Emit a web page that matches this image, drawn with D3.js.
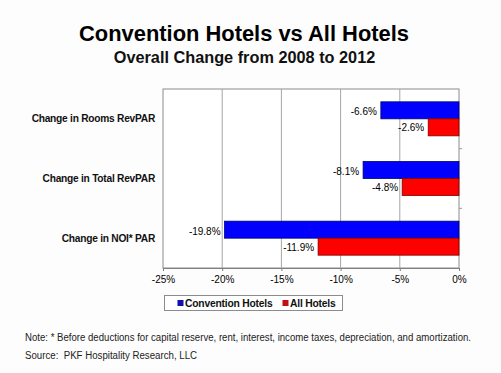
<!DOCTYPE html>
<html>
<head>
<meta charset="utf-8">
<script src="https://cdn.jsdelivr.net/npm/d3@7"></script>
<style>
  body { margin: 0; background: #fdfdfd; }
  svg { font-family: "Liberation Sans", Arial, sans-serif; }
</style>
</head>
<body>
<div id="chart"></div>
<script>
// data
const categories = ['Change in Rooms RevPAR', 'Change in Total RevPAR', 'Change in NOI* PAR']
const seriesNames = ['Convention Hotels', 'All Hotels']
const conventionValues = [-6.6, -8.1, -19.8]
const allHotelValues = [-2.6, -4.8, -11.9]
const xTicks = [-25, -20, -15, -10, -5, 0]

const colors = { 'Convention Hotels': '#0000ff', 'All Hotels': '#ff0000' }
const strokes = { 'Convention Hotels': '#00006e', 'All Hotels': '#7a0000' }

const data = categories.map((c, i) => ({
    category: c,
    values: [
        { series: seriesNames[0], value: conventionValues[i] },
        { series: seriesNames[1], value: allHotelValues[i] }
    ]
}))

const width = 501, height = 373
const plot = { left: 163, right: 459, top: 89, bottom: 268 }

const svg = d3.select('#chart').append('svg')
    .attr('width', width)
    .attr('height', height)

//titles
svg.append('text')
    .attr('x', 244).attr('y', 41)
    .attr('text-anchor', 'middle')
    .style('font-size', '21.9px').style('font-weight', 'bold')
    .text('Convention Hotels vs All Hotels')
svg.append('text')
    .attr('x', 244.5).attr('y', 63)
    .attr('text-anchor', 'middle')
    .style('font-size', '16.3px').style('font-weight', 'bold')
    .style('fill', '#111')
    .text('Overall Change from 2008 to 2012')

//scales
const xScale = d3.scaleLinear()
    .domain([-25, 0])
    .range([plot.left, plot.right])

const yScale = d3.scaleBand()
    .domain(categories)
    .range([plot.top, plot.bottom])
    .paddingInner(0.43)
    .paddingOuter(0.215)

const ySub = d3.scaleBand()
    .domain(seriesNames)
    .range([0, yScale.bandwidth()])

//plot area border + gridlines
svg.append('rect')
    .attr('x', plot.left).attr('y', plot.top)
    .attr('width', plot.right - plot.left)
    .attr('height', plot.bottom - plot.top)
    .attr('fill', '#fff')
    .attr('stroke', '#8c8c8c')

svg.append('g')
    .selectAll('line')
    .data(xTicks.slice(1, -1))
    .join('line')
    .attr('x1', d => xScale(d)).attr('x2', d => xScale(d))
    .attr('y1', plot.top).attr('y2', plot.bottom)
    .attr('stroke', '#a6a6a6')

//x axis
const xAxis = svg.append('g')
    .attr('transform', `translate(0, ${plot.bottom})`)
    .call(d3.axisBottom(xScale).tickValues(xTicks).tickSize(3).tickFormat(d => d + '%'))
xAxis.select('.domain').attr('stroke', '#808080')
xAxis.selectAll('.tick line').attr('stroke', '#808080')
xAxis.selectAll('text')
    .style('font-size', '10px').style('font-family', '"Liberation Sans", Arial, sans-serif')
    .attr('fill', '#000').attr('dy', '0.9em')

//small category ticks on the zero line
svg.append('g')
    .selectAll('line')
    .data(categories.slice(1))
    .join('line')
    .attr('x1', xScale(0)).attr('x2', xScale(0) + 3)
    .attr('y1', d => yScale(d) - yScale.step() * yScale.paddingInner() / 2)
    .attr('y2', d => yScale(d) - yScale.step() * yScale.paddingInner() / 2)
    .attr('stroke', '#999')

//category labels
svg.append('g')
    .selectAll('text')
    .data(categories)
    .join('text')
    .attr('x', 155)
    .attr('y', d => yScale(d) + yScale.bandwidth() / 2)
    .attr('dy', '0.35em')
    .attr('text-anchor', 'end')
    .style('font-size', '10.2px').style('font-weight', 'bold')
    .style('letter-spacing', '-0.25px')
    .style('fill', '#111')
    .text(d => d)

//bars
const groups = svg.append('g')
    .selectAll('g')
    .data(data)
    .join('g')
    .attr('transform', d => `translate(0, ${yScale(d.category)})`)

groups.selectAll('rect')
    .data(d => d.values)
    .join('rect')
    .attr('x', d => xScale(d.value))
    .attr('y', d => ySub(d.series))
    .attr('width', d => xScale(0) - xScale(d.value))
    .attr('height', ySub.bandwidth())
    .attr('fill', d => colors[d.series])
    .attr('stroke', d => strokes[d.series])
    .attr('stroke-width', 0.8)

groups.selectAll('text')
    .data(d => d.values)
    .join('text')
    .attr('x', d => xScale(d.value) - 4)
    .attr('y', d => ySub(d.series) + ySub.bandwidth() / 2 + (d.series === seriesNames[0] ? 1.5 : 0.5))
    .attr('dy', '0.35em')
    .attr('text-anchor', 'end')
    .style('font-size', '10px')
    .text(d => d.value.toFixed(1) + '%')

//legend
svg.append('rect')
    .attr('x', 164.5).attr('y', 295.5)
    .attr('width', 178).attr('height', 15)
    .attr('fill', '#fff')
    .attr('stroke', '#8c8c8c')

const legendX = [177.5, 282.5]
const legendSwatch = { 'Convention Hotels': '#1010b0', 'All Hotels': '#c01010' }
seriesNames.forEach((s, i) => {
    svg.append('rect')
        .attr('x', legendX[i]).attr('y', 300)
        .attr('width', 6).attr('height', 6)
        .attr('fill', legendSwatch[s])
    svg.append('text')
        .attr('x', legendX[i] + 7.5).attr('y', 303)
        .attr('dy', '0.35em')
        .style('font-size', '10.3px').style('font-weight', 'bold')
        .style('letter-spacing', '-0.2px')
        .style('fill', '#111')
        .text(s)
})

//notes
svg.append('text')
    .attr('x', 25).attr('y', 337.5)
    .attr('dy', '0.35em')
    .style('font-size', '10px').style('fill', '#222')
    .attr('textLength', 446).attr('lengthAdjust', 'spacingAndGlyphs')
    .text('Note: * Before deductions for capital reserve, rent, interest, income taxes, depreciation, and amortization.')
svg.append('text')
    .attr('x', 25).attr('y', 355)
    .attr('dy', '0.35em')
    .style('font-size', '10px').style('fill', '#222')
    .style('white-space', 'pre')
    .attr('textLength', 172).attr('lengthAdjust', 'spacingAndGlyphs')
    .text('Source:  PKF Hospitality Research, LLC')
</script>
</body>
</html>
